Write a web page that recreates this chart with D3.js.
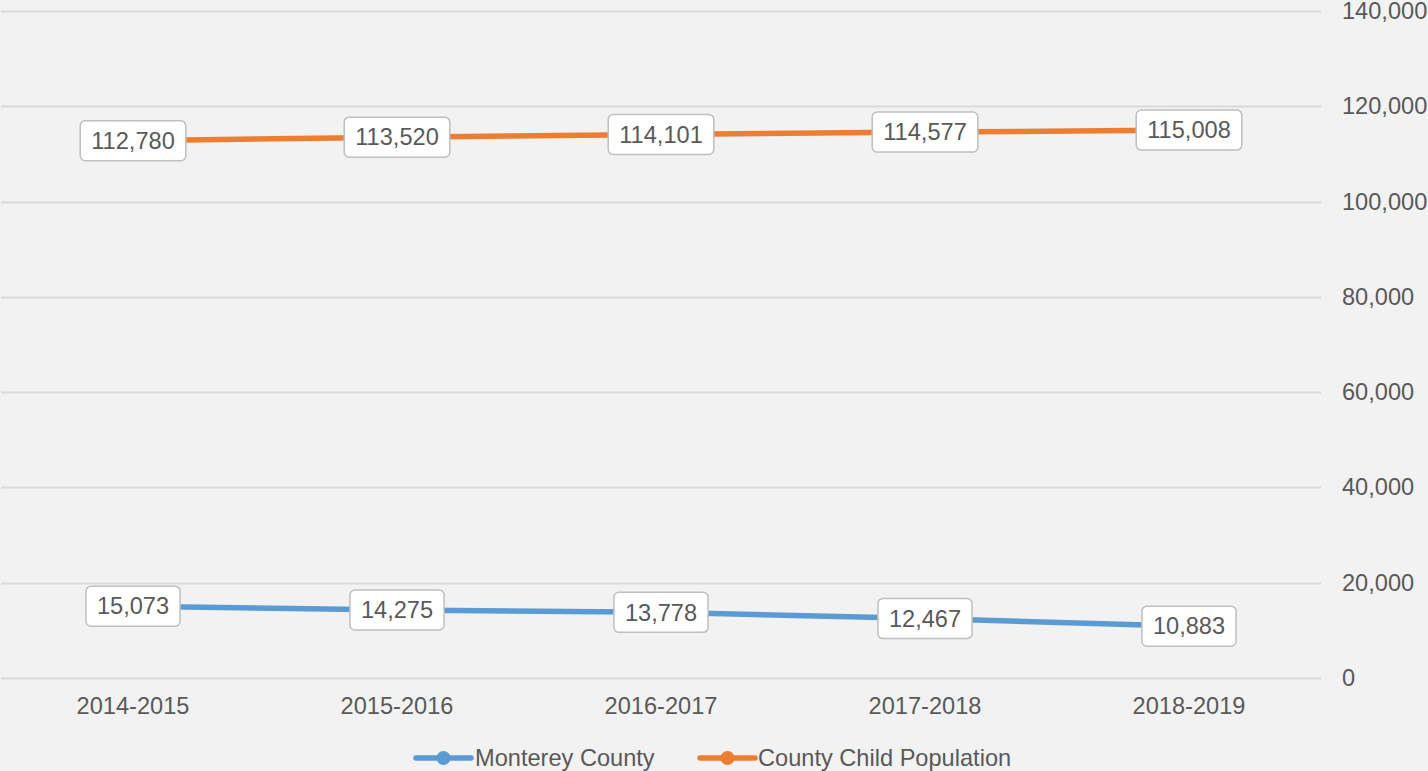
<!DOCTYPE html>
<html>
<head>
<meta charset="utf-8">
<script src="https://cdn.jsdelivr.net/npm/d3@7"></script>
<style>
  html, body { margin: 0; padding: 0; background: #f2f2f2; }
  svg { display: block; }
  text { font-family: "Liberation Sans", Arial, sans-serif; fill: #595959; }
</style>
</head>
<body>
<svg id="chart" width="1428" height="771"></svg>
<script>
const categories = ["2014-2015", "2015-2016", "2016-2017", "2017-2018", "2018-2019"];
const montereyCounty = [15073, 14275, 13778, 12467, 10883];
const countyChildPopulation = [112780, 113520, 114101, 114577, 115008];
const yTicks = [0, 20000, 40000, 60000, 80000, 100000, 120000, 140000];
const seriesNames = ["Monterey County", "County Child Population"];
const seriesColors = ["#5b9bd5", "#ed7d31"];

const FS = 23.6;
const svg = d3.select("#chart");
svg.append("rect").attr("width", 1428).attr("height", 771).attr("fill", "#f2f2f2");

const x = d3.scaleBand().domain(categories).range([1, 1321]);
const y = d3.scaleLinear().domain([0, 140000]).range([678, 11]);
const fmt = d3.format(",");

// gridlines
svg.append("g").selectAll("line").data(yTicks).join("line")
  .attr("x1", 1).attr("x2", 1321)
  .attr("y1", d => Math.round(y(d)) + 0.5).attr("y2", d => Math.round(y(d)) + 0.5)
  .attr("stroke", "#d9d9d9").attr("stroke-width", 2);

// right axis labels
const yAxis = d3.axisRight(y).tickValues(yTicks).tickFormat(fmt).tickSize(0).tickPadding(0);
const ya = svg.append("g").attr("transform", "translate(1342,0)").call(yAxis);
ya.select(".domain").remove();
ya.attr("font-size", FS).attr("font-family", "Liberation Sans, Arial, sans-serif");
ya.selectAll("text").attr("fill", "#595959");

// bottom axis labels
const xAxis = d3.axisBottom(x).tickSize(0).tickPadding(0);
const xa = svg.append("g").attr("transform", "translate(0,697)").call(xAxis);
xa.select(".domain").remove();
xa.attr("font-size", FS).attr("font-family", "Liberation Sans, Arial, sans-serif");
xa.selectAll("text").attr("fill", "#595959");

const cx = d => x(d) + x.bandwidth() / 2;
const seriesData = [montereyCounty, countyChildPopulation];

const line = d3.line().x((d, i) => cx(categories[i])).y(d => y(d));

seriesData.forEach((vals, s) => {
  svg.append("path").datum(vals)
    .attr("d", line).attr("fill", "none")
    .attr("stroke", seriesColors[s]).attr("stroke-width", 5.5)
    .attr("stroke-linejoin", "round");
  svg.append("g").selectAll("circle").data(vals).join("circle")
    .attr("cx", (d, i) => cx(categories[i])).attr("cy", d => y(d)).attr("r", 7)
    .attr("fill", seriesColors[s]);
});

// data labels
seriesData.forEach((vals, s) => {
  const g = svg.append("g");
  vals.forEach((v, i) => {
    const px = cx(categories[i]), py = y(v);
    const lg = g.append("g").attr("transform", `translate(${px},${py})`);
    const t = lg.append("text").text(fmt(v))
      .attr("font-size", FS).attr("text-anchor", "middle").attr("dy", "0.35em");
    const w = t.node().getComputedTextLength();
    lg.insert("rect", "text")
      .attr("x", -w / 2 - 11).attr("y", -20)
      .attr("width", w + 22).attr("height", 40)
      .attr("rx", 5).attr("ry", 5)
      .attr("fill", "#ffffff").attr("stroke", "#bfbfbf").attr("stroke-width", 1.5);
  });
});

// legend
const legendItems = [
  { name: seriesNames[0], color: seriesColors[0], x0: 416, tx: 475 },
  { name: seriesNames[1], color: seriesColors[1], x0: 700, tx: 758 }
];
const lgd = svg.append("g");
legendItems.forEach(it => {
  lgd.append("line").attr("x1", it.x0).attr("x2", it.x0 + 55)
    .attr("y1", 758).attr("y2", 758)
    .attr("stroke", it.color).attr("stroke-width", 5.5).attr("stroke-linecap", "round");
  lgd.append("circle").attr("cx", it.x0 + 27.5).attr("cy", 758).attr("r", 7).attr("fill", it.color);
  lgd.append("text").attr("x", it.tx).attr("y", 766).text(it.name)
    .attr("font-size", FS);
});
</script>
</body>
</html>
